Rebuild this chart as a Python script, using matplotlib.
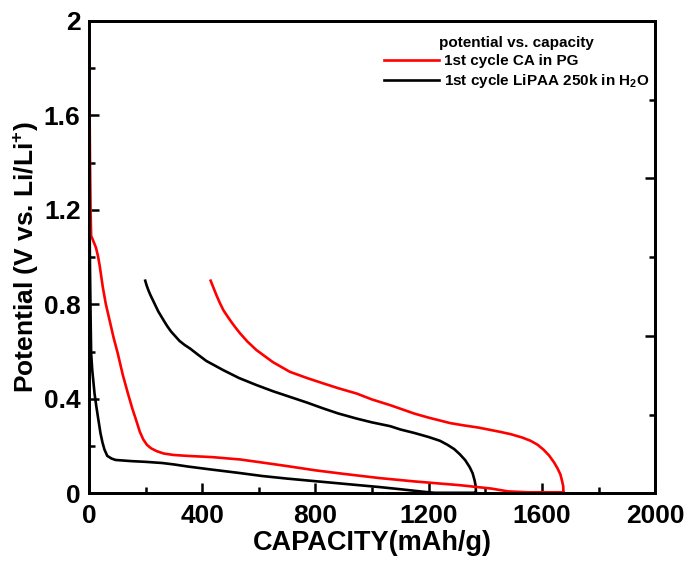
import matplotlib
matplotlib.use("Agg")
import matplotlib.pyplot as plt
from matplotlib.ticker import MultipleLocator, FixedLocator, NullFormatter
from matplotlib.lines import Line2D

plt.rcParams['font.family'] = ['Liberation Sans', 'DejaVu Sans']
plt.rcParams['font.weight'] = 'bold'
plt.rcParams['mathtext.fontset'] = 'custom'
plt.rcParams['mathtext.rm'] = 'Liberation Sans:bold'
plt.rcParams['mathtext.bf'] = 'Liberation Sans:bold'
plt.rcParams['mathtext.it'] = 'Liberation Sans:bold'

# Red: 1st cycle CA in PG (discharge then charge)
red_cap = [0, 2, 4, 6, 8, 15, 25, 32, 38, 44, 49, 60, 73, 87, 102, 120, 138, 153, 167, 180,
           192, 205, 220, 240, 265, 300, 350, 435, 534, 612, 700, 800, 900, 1028, 1150,
           1311, 1420, 1480, 1550, 1675,
           1676, 1675, 1671, 1665, 1655, 1643, 1625, 1605, 1585, 1560, 1530, 1490, 1452,
           1376, 1320, 1276, 1200, 1150, 1064, 1000, 946, 880, 828, 770, 710, 650, 592,
           560, 534, 520, 505, 490, 475, 462, 450, 440, 430]
red_v = [2.0, 1.7, 1.4, 1.2, 1.09, 1.07, 1.04, 1.005, 0.965, 0.915, 0.874, 0.80, 0.733,
         0.66, 0.592, 0.50, 0.422, 0.36, 0.309, 0.26, 0.228, 0.205, 0.19, 0.178, 0.168,
         0.162, 0.158, 0.153, 0.143, 0.13, 0.115, 0.097, 0.082, 0.064, 0.05, 0.034, 0.02,
         0.008, 0.004, 0.004,
         0.0, 0.03, 0.052, 0.08, 0.105, 0.13, 0.16, 0.185, 0.205, 0.222, 0.236, 0.25, 0.26,
         0.278, 0.288, 0.297, 0.32, 0.337, 0.373, 0.397, 0.422, 0.445, 0.465, 0.488, 0.514,
         0.555, 0.606, 0.642, 0.677, 0.698, 0.722, 0.748, 0.775, 0.807, 0.84, 0.87, 0.90]

# Black: 1st cycle LiPAA 250k in H2O
blk_cap = [0, 2, 4, 6, 8, 12, 20, 26, 32, 41, 48, 55, 65, 80, 94, 150, 200, 259, 300, 350,
           435, 530, 612, 700, 800, 900, 1028, 1100, 1184, 1220, 1365,
           1367, 1366, 1362, 1355, 1345, 1329, 1310, 1290, 1265, 1240, 1200, 1150, 1100,
           1064, 1000, 946, 880, 828, 770, 710, 650, 592, 530, 475, 415, 385, 357, 338,
           320, 305, 290, 277, 265, 255, 245, 235, 225, 217, 210, 204, 199]
blk_v = [1.5, 1.2, 0.95, 0.75, 0.592, 0.52, 0.422, 0.37, 0.323, 0.254, 0.215, 0.185, 0.158,
         0.147, 0.141, 0.136, 0.133, 0.128, 0.122, 0.113, 0.1, 0.086, 0.073, 0.062, 0.051,
         0.04, 0.026, 0.017, 0.006, 0.002, 0.002,
         0.0, 0.03, 0.055, 0.085, 0.11, 0.14, 0.165, 0.187, 0.206, 0.222, 0.238, 0.255,
         0.27, 0.284, 0.3, 0.316, 0.338, 0.359, 0.384, 0.408, 0.432, 0.458, 0.488, 0.521,
         0.56, 0.587, 0.613, 0.628, 0.645, 0.665, 0.685, 0.707, 0.73, 0.75, 0.77, 0.795,
         0.82, 0.84, 0.86, 0.88, 0.90]

legend_title = "potential vs. capacity"
labels = ["1st cycle CA in PG", "1st cycle LiPAA 250k in H$_2$O"]

fig = plt.figure(figsize=(6.89, 5.65), dpi=100)
ax = fig.add_axes([0.129, 0.127, 0.822, 0.836])

ax.plot(blk_cap, blk_v, color='black', lw=1.9, zorder=3)
ax.plot(red_cap, red_v, color='#ff0000', lw=1.9, zorder=3)

ax.set_xlim(0, 2000)
ax.set_ylim(0, 2)
ax.xaxis.set_minor_locator(MultipleLocator(200))
ax.yaxis.set_minor_locator(MultipleLocator(0.2))
ax.set_yticks([0, 0.4, 0.8, 1.2, 1.6, 2.0])
ax.set_yticklabels(['0', '0.4', '0.8', '1.2', '1.6', '2'])
ax.set_xticks([0, 400, 800, 1200, 1600, 2000])
ax.set_xticklabels(['0', '400', '800', '1200', '1600', '2000'])
ax.tick_params(which='both', direction='in', width=1.8, labelsize=19, top=False, right=False)
ax.tick_params(axis='x', which='major', length=7, pad=8)
ax.tick_params(axis='y', which='major', length=7, pad=6)
ax.tick_params(which='minor', length=4)
for s in ax.spines.values():
    s.set_linewidth(2)

ax2 = ax.twinx()
ax2.set_ylim(0, 2)
ax2.yaxis.set_major_locator(FixedLocator([2/3, 4/3]))
ax2.yaxis.set_minor_locator(FixedLocator([1/3, 1.0, 5/3]))
ax2.yaxis.set_major_formatter(NullFormatter())
ax2.tick_params(which='both', direction='in', width=1.8)
ax2.tick_params(which='major', length=7)
ax2.tick_params(which='minor', length=4)
for s in ax2.spines.values():
    s.set_linewidth(2)

ax.set_xlabel('CAPACITY(mAh/g)', fontsize=19.5, fontweight='bold', labelpad=1)
ax.set_ylabel('Potential (V vs. Li/Li$^{+}$)', fontsize=19, fontweight='bold', labelpad=2)

handles = [Line2D([], [], color='#ff0000', lw=1.9), Line2D([], [], color='black', lw=1.9)]
leg = ax.legend(handles, labels, title=legend_title, loc='upper right',
                bbox_to_anchor=(1.008, 0.99), frameon=False,
                prop={'weight': 'bold', 'size': 11}, handlelength=3.6,
                handletextpad=0.3, labelspacing=0.25, borderaxespad=0.3)
leg.get_title().set_fontweight('bold')
leg.get_title().set_fontsize(11)

fig.savefig('out.png', dpi=100)
